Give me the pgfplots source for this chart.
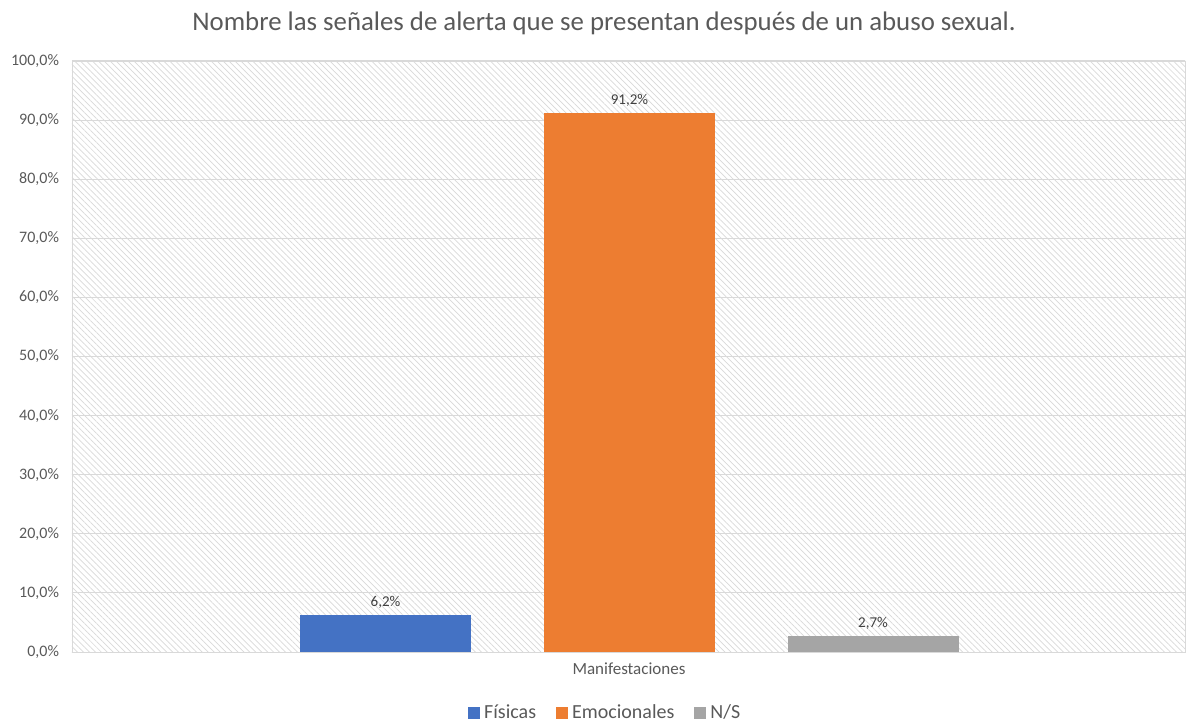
\documentclass[border=0pt]{standalone}
\usepackage{fontspec}
\setmainfont{Carlito}
\usepackage{pgfplots}
\pgfplotsset{compat=1.18}
\usetikzlibrary{patterns.meta}
\definecolor{cblue}{HTML}{4472C4}
\definecolor{corange}{HTML}{ED7D31}
\definecolor{cgray}{HTML}{A5A5A5}
\definecolor{txt}{HTML}{595959}
\definecolor{lbl}{HTML}{404040}
\definecolor{gridc}{HTML}{D9D9D9}
\begin{document}
\begin{tikzpicture}
\begin{axis}[
  scale only axis,
  width=556.5pt, height=295.5pt,
  xmin=72, xmax=1185,
  ymin=0, ymax=100,
  ytick={0,10,...,100},
  xtick={629},
  xticklabels={Manifestaciones},
  ymajorgrids,
  grid style={gridc, line width=0.5pt},
  major tick length=0pt,
  axis line style={gridc},
  axis background/.style={fill=white, postaction={pattern={Lines[angle=-45,distance=2.1pt,line width=0.35pt]}, pattern color=gridc}},
  /pgf/number format/assume math mode=true,
  yticklabel={\pgfmathprintnumber[fixed,fixed zerofill,precision=1,use comma]{\tick}\%},
  yticklabel style={font=\fontsize{8}{9}\selectfont, text=txt, xshift=-3pt},
  xticklabel style={font=\fontsize{8.5}{10}\selectfont, text=txt, yshift=-2pt},
  ybar, bar width=85.5pt, bar shift=0pt,
  nodes near coords={\pgfmathprintnumber[fixed,fixed zerofill,precision=1,use comma,assume math mode=true]{\pgfplotspointmeta}\%},
  nodes near coords style={font=\fontsize{7.5}{8}\selectfont, text=lbl},
  legend style={at={(0.48,0)}, anchor=center, yshift=-30.5pt, draw=none, fill=none,
    font=\fontsize{10}{12}\selectfont, text=txt, legend columns=3,
    /tikz/every even column/.append style={column sep=8pt}},
  legend image code/.code={\fill[#1] (0pt,-3pt) rectangle (6pt,3pt);},
]
\addplot[fill=cblue, draw=none] coordinates {(385.5,6.2)};
\addplot[fill=corange, draw=none] coordinates {(629.5,91.2)};
\addplot[fill=cgray, draw=none] coordinates {(873,2.7)};
\legend{Físicas, Emocionales, N/S}
\end{axis}
\node[font=\fontsize{13.4}{15}\selectfont, text=txt] at (266pt,314.5pt) {Nombre las señales de alerta que se presentan después de un abuso sexual.};
\pgfresetboundingbox
\path (-36pt,-35.5pt) rectangle (557pt,326pt);
\end{tikzpicture}
\end{document}
